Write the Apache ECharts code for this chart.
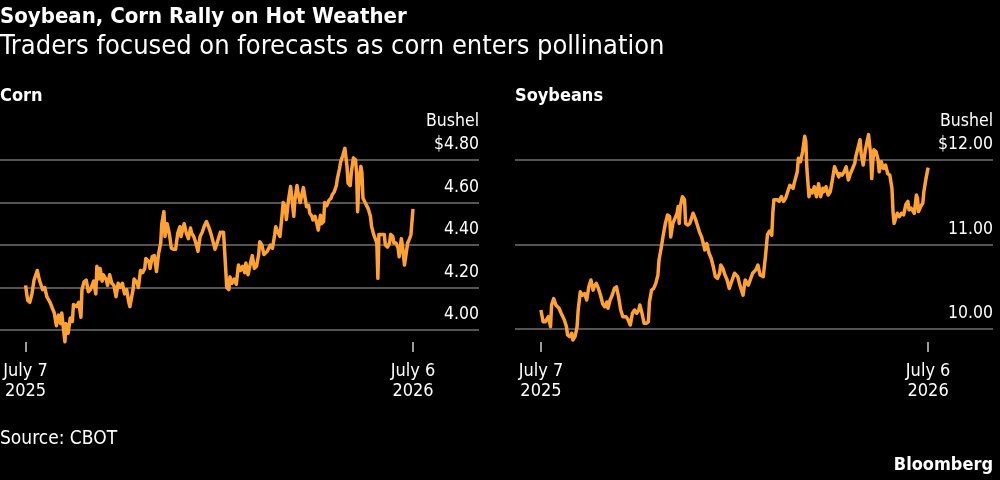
<!DOCTYPE html>
<html>
<head>
<meta charset="utf-8">
<title>Soybean, Corn Rally on Hot Weather</title>
<script src="https://cdn.jsdelivr.net/npm/echarts@6/dist/echarts.min.js"></script>
<style>
  html, body { margin: 0; padding: 0; background: #000; }
  #chart { width: 1000px; height: 480px; }
</style>
</head>
<body>
<div id="chart"></div>
<script>
// days since July 7, 2025 ; price in $ per bushel
const cornDays = [0,2,4,6,8,11,13,16,18,20,23,27,29,31,33,34,37,38,40,42,44,45,48,50,52,53,55,57,59,61,62,64,66,67,69,70,72,73,76,77,79,81,83,85,87,89,91,93,95,97,98,101,102,105,106,108,110,112,113,116,117,119,121,123,125,127,128,130,131,133,135,137,139,141,143,145,146,149,151,153,155,156,158,160,162,164,166,168,170,172,174,177,178,180,183,186,188,189,191,192,194,196,198,200,202,204,206,207,209,212,213,215,217,219,220,222,224,227,228,230,232,234,235,237,239,241,242,244,245,247,249,250,252,253,255,256,258,260,261,263,264,266,267,269,270,272,274,275,277,278,280,281,283,285,287,288,290,292,293,295,296,298,300,301,302,303,305,306,308,310,311,312,313,315,316,317,319,320,322,324,325,327,328,330,331,332,334,335,337,338,340,342,343,345,346,348,350,351,353,354,356,357,359,360,362,364];
const cornPrices = [4.21,4.14,4.13,4.17,4.235,4.28,4.235,4.19,4.20,4.157,4.13,4.08,4.02,4.07,4.03,4.08,3.945,4.03,3.985,4.056,4.04,4.12,4.11,4.13,4.06,4.19,4.227,4.235,4.18,4.19,4.19,4.23,4.17,4.30,4.24,4.29,4.23,4.26,4.235,4.21,4.26,4.22,4.21,4.157,4.22,4.20,4.22,4.17,4.19,4.13,4.11,4.19,4.24,4.22,4.20,4.28,4.27,4.29,4.337,4.32,4.29,4.345,4.35,4.275,4.36,4.41,4.50,4.557,4.44,4.50,4.456,4.385,4.38,4.38,4.456,4.486,4.44,4.50,4.456,4.43,4.48,4.456,4.44,4.41,4.37,4.44,4.46,4.49,4.51,4.486,4.456,4.40,4.38,4.41,4.46,4.46,4.29,4.20,4.19,4.25,4.22,4.24,4.215,4.306,4.28,4.30,4.27,4.315,4.26,4.33,4.35,4.29,4.30,4.355,4.415,4.40,4.355,4.37,4.37,4.40,4.385,4.447,4.486,4.46,4.44,4.54,4.60,4.58,4.52,4.61,4.675,4.63,4.535,4.61,4.68,4.645,4.60,4.645,4.67,4.61,4.58,4.585,4.55,4.535,4.518,4.535,4.494,4.47,4.54,4.50,4.51,4.60,4.585,4.61,4.62,4.635,4.65,4.68,4.714,4.76,4.79,4.82,4.855,4.86,4.77,4.69,4.68,4.74,4.81,4.80,4.74,4.557,4.68,4.77,4.74,4.62,4.60,4.59,4.57,4.535,4.49,4.45,4.447,4.41,4.243,4.45,4.45,4.447,4.45,4.40,4.39,4.41,4.45,4.44,4.41,4.41,4.385,4.345,4.43,4.40,4.306,4.30,4.41,4.42,4.447,4.57];

const soyDays = [0,2,4,7,9,10,12,14,17,19,22,24,25,27,29,30,32,34,35,37,39,41,43,45,47,49,50,52,54,56,58,60,62,63,65,67,69,71,73,75,77,78,80,82,84,86,88,90,92,93,95,97,99,101,102,104,106,108,110,111,113,115,117,119,121,122,124,126,128,129,130,131,133,135,136,138,140,141,143,145,147,149,151,153,154,156,158,160,162,164,166,168,169,171,173,175,177,182,185,187,190,192,195,199,202,204,206,209,211,213,215,217,218,219,222,224,226,228,230,232,234,237,238,241,242,244,246,248,249,250,252,253,255,257,259,261,263,265,266,268,270,272,274,276,278,280,281,283,285,287,289,291,293,295,296,298,300,301,303,305,306,308,310,311,312,313,315,317,318,320,322,324,326,328,330,331,332,333,335,337,339,341,343,345,346,348,349,351,353,354,355,357,359,360,362,364];
const soyPrices = [10.225,10.086,10.086,10.146,10.027,10.284,10.36,10.284,10.245,10.186,10.107,10.027,9.93,9.91,9.95,9.87,9.91,10.027,10.225,10.44,10.40,10.42,10.343,10.50,10.58,10.46,10.50,10.54,10.48,10.40,10.30,10.264,10.32,10.245,10.343,10.40,10.48,10.50,10.38,10.225,10.146,10.13,10.146,10.107,10.047,10.186,10.225,10.186,10.225,10.284,10.186,10.067,10.067,10.086,10.32,10.46,10.48,10.54,10.64,10.817,10.955,11.112,11.25,11.35,11.33,11.09,11.25,11.31,11.37,11.45,11.25,11.45,11.566,11.53,11.25,11.23,11.25,11.27,11.37,11.31,11.23,11.15,11.09,10.994,10.935,11.01,10.896,10.837,10.738,10.62,10.60,10.66,10.757,10.718,10.64,10.58,10.48,10.66,10.62,10.52,10.40,10.58,10.52,10.66,10.70,10.757,10.64,10.62,10.85,11.12,11.16,11.11,11.37,11.53,11.53,11.51,11.566,11.51,11.547,11.625,11.70,11.665,11.72,11.86,12.02,11.98,12.10,12.28,12.22,11.90,11.566,11.645,11.61,11.684,11.566,11.72,11.566,11.665,11.625,11.684,11.586,11.625,11.763,11.92,11.86,11.80,11.84,11.82,11.86,11.92,11.763,11.84,11.90,11.96,12.04,12.14,12.24,12.08,11.94,12.12,12.18,12.30,12.06,11.78,11.98,12.12,12.10,12.00,11.86,11.98,11.90,11.94,11.84,11.82,11.665,11.39,11.25,11.23,11.37,11.33,11.37,11.35,11.47,11.51,11.41,11.43,11.43,11.37,11.586,11.547,11.39,11.45,11.49,11.625,11.78,11.91];

const tickDays = [0, 364];
const tickLabels = ['July 7\n2025', 'July 6\n2026'];
const cornTop = 4.8;
const soyTop = 12;

const FONT = '"DejaVu Sans Condensed", "DejaVu Sans", sans-serif';
const ORANGE = '#ffa133';

const chart = echarts.init(document.getElementById('chart'), null, { renderer: 'canvas' });

function xAxisFor(gridIndex, min, max, offset) {
  return {
    gridIndex: gridIndex,
    type: 'value',
    min: min,
    max: max,
    offset: offset,
    axisLine: { show: false },
    splitLine: { show: false },
    axisTick: {
      customValues: tickDays,
      length: 10,
      lineStyle: { color: '#cfcfcf', width: 1.5 }
    },
    axisLabel: {
      customValues: tickDays,
      formatter: (v) => tickLabels[tickDays.indexOf(v)] || '',
      color: '#ffffff',
      fontFamily: FONT,
      fontSize: 18,
      lineHeight: 20,
      margin: 19
    }
  };
}

function yAxisFor(gridIndex, min, max, interval, top, fmt) {
  return {
    gridIndex: gridIndex,
    type: 'value',
    position: 'right',
    min: min,
    max: max,
    interval: interval,
    axisLine: { show: false },
    axisTick: { show: false },
    splitLine: {
      show: true,
      showMinLine: false,
      showMaxLine: false,
      lineStyle: { color: '#707070', width: 1.5 }
    },
    axisLabel: {
      inside: true,
      margin: 0,
      showMinLabel: false,
      showMaxLabel: false,
      verticalAlign: 'bottom',
      align: 'right',
      color: '#ffffff',
      fontFamily: FONT,
      fontSize: 17.5,
      lineHeight: 23,
      padding: [0, 0, 4, 0],
      formatter: (v) => Math.abs(v - top) < 1e-6 ? 'Bushel\n$' + fmt(v) : fmt(v)
    }
  };
}

chart.setOption({
  backgroundColor: '#000000',
  animation: false,
  title: [
    { text: 'Soybean, Corn Rally on Hot Weather', left: 0, top: 6, padding: 0,
      textStyle: { color: '#fff', fontFamily: FONT, fontSize: 22, fontWeight: 'bold' } },
    { text: 'Traders focused on forecasts as corn enters pollination', left: 0, top: 33, padding: 0,
      textStyle: { color: '#fff', fontFamily: FONT, fontSize: 27, fontWeight: 'normal' } },
    { text: 'Corn', left: 0, top: 87, padding: 0,
      textStyle: { color: '#fff', fontFamily: FONT, fontSize: 18, fontWeight: 'bold' } },
    { text: 'Soybeans', left: 515, top: 87, padding: 0,
      textStyle: { color: '#fff', fontFamily: FONT, fontSize: 18, fontWeight: 'bold' } },
    { text: 'Source: CBOT', left: 0, top: 430, padding: 0,
      textStyle: { color: '#fff', fontFamily: FONT, fontSize: 19, fontWeight: 'normal' } },
    { text: 'Bloomberg', right: 7, top: 456, padding: 0,
      textStyle: { color: '#fff', fontFamily: FONT, fontSize: 18, fontWeight: 'bold' } }
  ],
  grid: [
    // corn: 4.00 at y=330, 4.80 at y=160 -> 3.80..5.00 spans 117.5..372.5
    { left: 0, width: 479, top: 117.5, height: 255 },
    // soybeans: 10 at y=329, 12 at y=160 -> 9..13 spans 75.5..413.5
    { left: 515, width: 478, top: 75.5, height: 338 }
  ],
  xAxis: [
    xAxisFor(0, -24, 426, -30.5),
    xAxisFor(1, -24.4, 425, -71.5)
  ],
  yAxis: [
    yAxisFor(0, 3.8, 5.0, 0.2, cornTop, (v) => v.toFixed(2)),
    yAxisFor(1, 9, 13, 1, soyTop, (v) => v.toFixed(2))
  ],
  series: [
    {
      name: 'Corn',
      type: 'line',
      xAxisIndex: 0,
      yAxisIndex: 0,
      showSymbol: false,
      data: cornDays.map((d, i) => [d, cornPrices[i]]),
      lineStyle: { color: ORANGE, width: 3.5, join: 'round' }
    },
    {
      name: 'Soybeans',
      type: 'line',
      xAxisIndex: 1,
      yAxisIndex: 1,
      showSymbol: false,
      data: soyDays.map((d, i) => [d, soyPrices[i]]),
      lineStyle: { color: ORANGE, width: 3.5, join: 'round' }
    }
  ]
});
</script>
</body>
</html>
